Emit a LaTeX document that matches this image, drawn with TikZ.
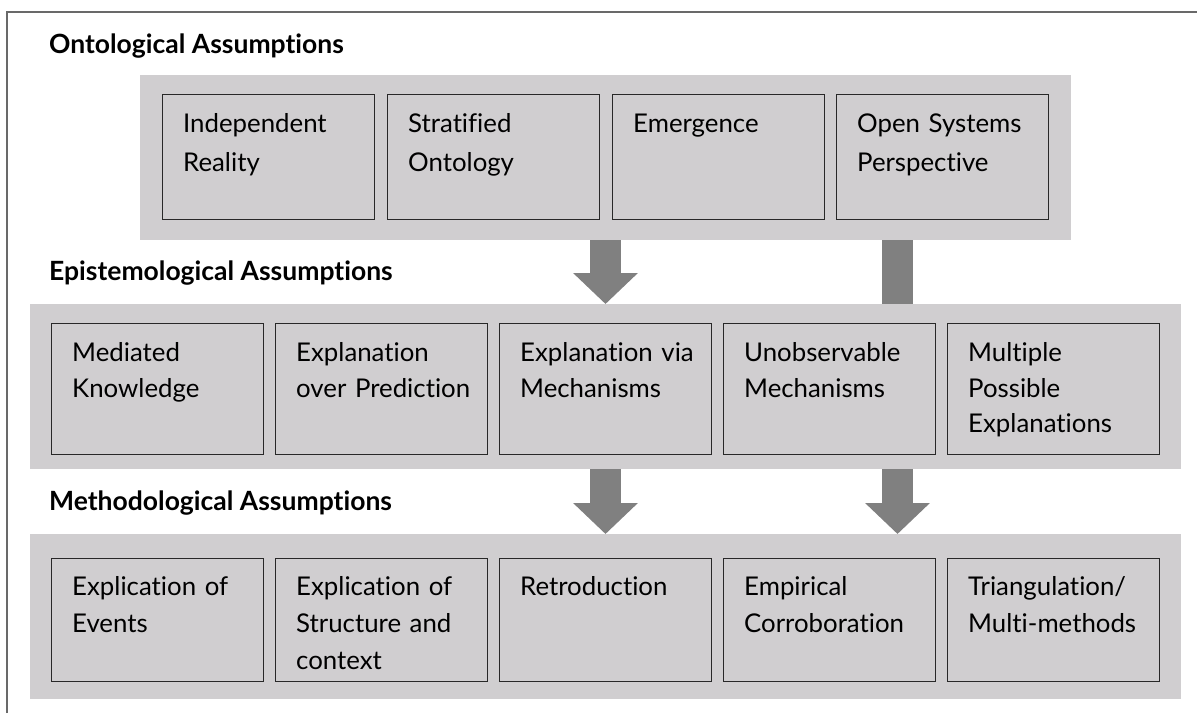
\documentclass[tikz,border=0pt]{standalone}
\usepackage{fontspec}
\setmainfont[Ligatures=NoCommon]{Lato}
\usetikzlibrary{arrows.meta,calc}

\definecolor{bandfill}{RGB}{208,206,208}
\definecolor{arrowfill}{RGB}{128,128,128}
\definecolor{framegray}{RGB}{105,105,105}
\definecolor{boxline}{RGB}{40,40,40}

\begin{document}
\begin{tikzpicture}[x=1pt,y=-1pt,
  band/.style={rectangle, fill=bandfill, draw=none, anchor=north west,
    inner sep=0pt, outer sep=0pt},
  cell/.style={rectangle, draw=boxline, line width=1pt, fill=bandfill,
    anchor=north west, inner sep=0pt, outer sep=0pt, minimum width=212pt},
  celltext/.style={anchor=base west, inner sep=0pt, text width=205pt,
    align=left, font=\fontsize{25.8}{#1}\selectfont},
  heading/.style={anchor=base west, inner sep=0pt,
    font=\fontsize{26.5}{30}\selectfont\bfseries},
  blockarrow/.style={draw=arrowfill, line width=31pt,
    -{Triangle[width=63pt,length=31pt]}},
  stem/.style={draw=arrowfill, line width=31pt},
  frameline/.style={draw=framegray, line width=1.3pt}
]
\useasboundingbox (0,0) rectangle (1197,713);

% outer frame (top and left edges)
\coordinate (fbl) at (7,713);
\coordinate (ftl) at (7,12);
\coordinate (ftr) at (1197,12);
\draw[frameline] (fbl) -- (ftl) -- (ftr);

% headings
\node[heading] (h-ont) at (49,53.3) {Ontological Assumptions};
\node[heading] (h-epi) at (49,280) {Epistemological Assumptions};
\node[heading] (h-met) at (49,510) {Methodological Assumptions};

% background bands
\node[band, minimum width=931pt, minimum height=165pt] (ont) at (140,75) {};
\node[band, minimum width=1151pt, minimum height=165pt] (epi) at (30,304) {};
\node[band, minimum width=1151pt, minimum height=165pt] (met) at (30,534) {};

% ontological row
\node[cell, minimum height=125pt] (o1) at (162,94) {};
\node[cell, minimum height=125pt] (o2) at (387,94) {};
\node[cell, minimum height=125pt] (o3) at (612,94) {};
\node[cell, minimum height=125pt] (o4) at (836,94) {};
\node[celltext=39] (o1t) at ($(o1.north west)+(21,38.7)$) {Independent\\Reality};
\node[celltext=39] (o2t) at ($(o2.north west)+(21,38.7)$) {Stratified\\Ontology};
\node[celltext=39] (o3t) at ($(o3.north west)+(21,38.7)$) {Emergence};
\node[celltext=39] (o4t) at ($(o4.north west)+(21,38.7)$) {Open Systems\\Perspective};

% epistemological row
\node[cell, minimum height=131pt] (e1) at (51,323) {};
\node[cell, minimum height=131pt] (e2) at (275,323) {};
\node[cell, minimum height=131pt] (e3) at (499,323) {};
\node[cell, minimum height=131pt] (e4) at (723,323) {};
\node[cell, minimum height=131pt] (e5) at (947,323) {};
\node[celltext=35.5] (e1t) at ($(e1.north west)+(21,38.7)$) {Mediated\\Knowledge};
\node[celltext=35.5] (e2t) at ($(e2.north west)+(21,38.7)$) {Explanation\\over Prediction};
\node[celltext=35.5] (e3t) at ($(e3.north west)+(21,38.7)$) {Explanation via\\Mechanisms};
\node[celltext=35.5] (e4t) at ($(e4.north west)+(21,38.7)$) {Unobservable\\Mechanisms};
\node[celltext=35.5] (e5t) at ($(e5.north west)+(21,38.7)$) {Multiple\\Possible\\Explanations};

% methodological row
\node[cell, minimum height=123pt] (m1) at (51,558) {};
\node[cell, minimum height=123pt] (m2) at (275,558) {};
\node[cell, minimum height=123pt] (m3) at (499,558) {};
\node[cell, minimum height=123pt] (m4) at (723,558) {};
\node[cell, minimum height=123pt] (m5) at (947,558) {};
\node[celltext=37] (m1t) at ($(m1.north west)+(21,37.7)$) {Explication of\\Events};
\node[celltext=37] (m2t) at ($(m2.north west)+(21,37.7)$) {Explication of\\Structure and\\context};
\node[celltext=37] (m3t) at ($(m3.north west)+(21,37.7)$) {Retroduction};
\node[celltext=37] (m4t) at ($(m4.north west)+(21,37.7)$) {Empirical\\Corroboration};
\node[celltext=37] (m5t) at ($(m5.north west)+(21,37.7)$) {Triangulation/\\Multi-methods};

% block arrows between the bands
\coordinate (colA) at (605.5,0);
\coordinate (colB) at (897.5,0);
\draw[blockarrow] (colA |- ont.south) -- (colA |- epi.north);
\draw[stem] (colB |- ont.south) -- (colB |- epi.north);
\draw[blockarrow] (colA |- epi.south) -- (colA |- met.north);
\draw[blockarrow] (colB |- epi.south) -- (colB |- met.north);
\end{tikzpicture}
\end{document}
